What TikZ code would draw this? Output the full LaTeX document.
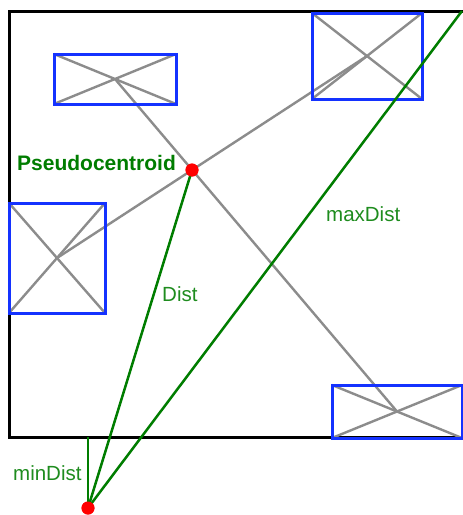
\documentclass[tikz,border=0pt]{standalone}
\usepackage{fontspec}
\setmainfont{Liberation Sans}
\definecolor{boxblue}{RGB}{20,50,255}
\definecolor{linegray}{RGB}{140,140,140}
\definecolor{distgreen}{RGB}{0,125,0}
\definecolor{labelgreen}{RGB}{30,140,30}
\definecolor{dotred}{RGB}{255,0,0}
\begin{document}
\begin{tikzpicture}[x=1pt,y=-1pt,
  objbox/.style={draw=boxblue,line width=3pt,rectangle,inner sep=0pt,outer sep=0pt},
  diag/.style={draw=linegray,line width=2.4pt},
  distline/.style={draw=distgreen,line width=2.5pt},
  reddot/.style={circle,fill=dotred,inner sep=0pt,minimum size=13pt},
  lbl/.style={text=labelgreen,inner sep=0pt,anchor=base west,font=\fontsize{20.5}{24}\selectfont}
]
\useasboundingbox (0,0) rectangle (463,515);
\fill[white] (0,0) rectangle (463,515);

% boundary of the area (right side runs off the edge)
\draw[line width=3pt] (470,11) -- (9,11) -- (9,437) -- (470,437);

% bounding boxes of the objects
\path (115,79)    node[objbox,minimum width=122pt,minimum height=50pt]  (tl) {};
\path (367,56)    node[objbox,minimum width=110pt,minimum height=86pt]  (tr) {};
\path (57,258)    node[objbox,minimum width=96pt,minimum height=110pt]  (lf) {};
\path (397,411.5) node[objbox,minimum width=130pt,minimum height=53pt]  (br) {};

% diagonals of each box and the lines joining opposite box centres
\foreach \b in {tl,tr,lf,br}{
  \draw[diag] (\b.north west) -- (\b.south east);
  \draw[diag] (\b.south west) -- (\b.north east);
}
\draw[diag] (tl.center) -- (br.center);
\draw[diag] (lf.center) -- (tr.center);

% redraw box borders above the grey lines
\foreach \b in {tl,tr,lf,br}{
  \draw[draw=boxblue,line width=3pt] (\b.north west) rectangle (\b.south east);
}

% points and distances
\node[reddot] (pc) at (192,170) {};
\node[reddot] (q) at (88,508) {};
\coordinate (foot) at (88,437);
\coordinate (far) at (462,11);

\draw[distline] (q.center) -- (foot);
\draw[distline] (q.center) -- (pc.center);
\draw[distline] (q.center) -- (far);
\node[reddot] at (pc) {};
\node[reddot] at (q) {};

% labels
\node[lbl,text=distgreen,font=\fontsize{21}{24}\selectfont\bfseries] (pclabel) at (17,170) {Pseudocentroid};
\node[lbl] (maxlabel) at (326,221.5) {maxDist};
\node[lbl] (distlabel) at (162,301) {Dist};
\node[lbl] (minlabel) at (13,480) {minDist};
\end{tikzpicture}
\end{document}
